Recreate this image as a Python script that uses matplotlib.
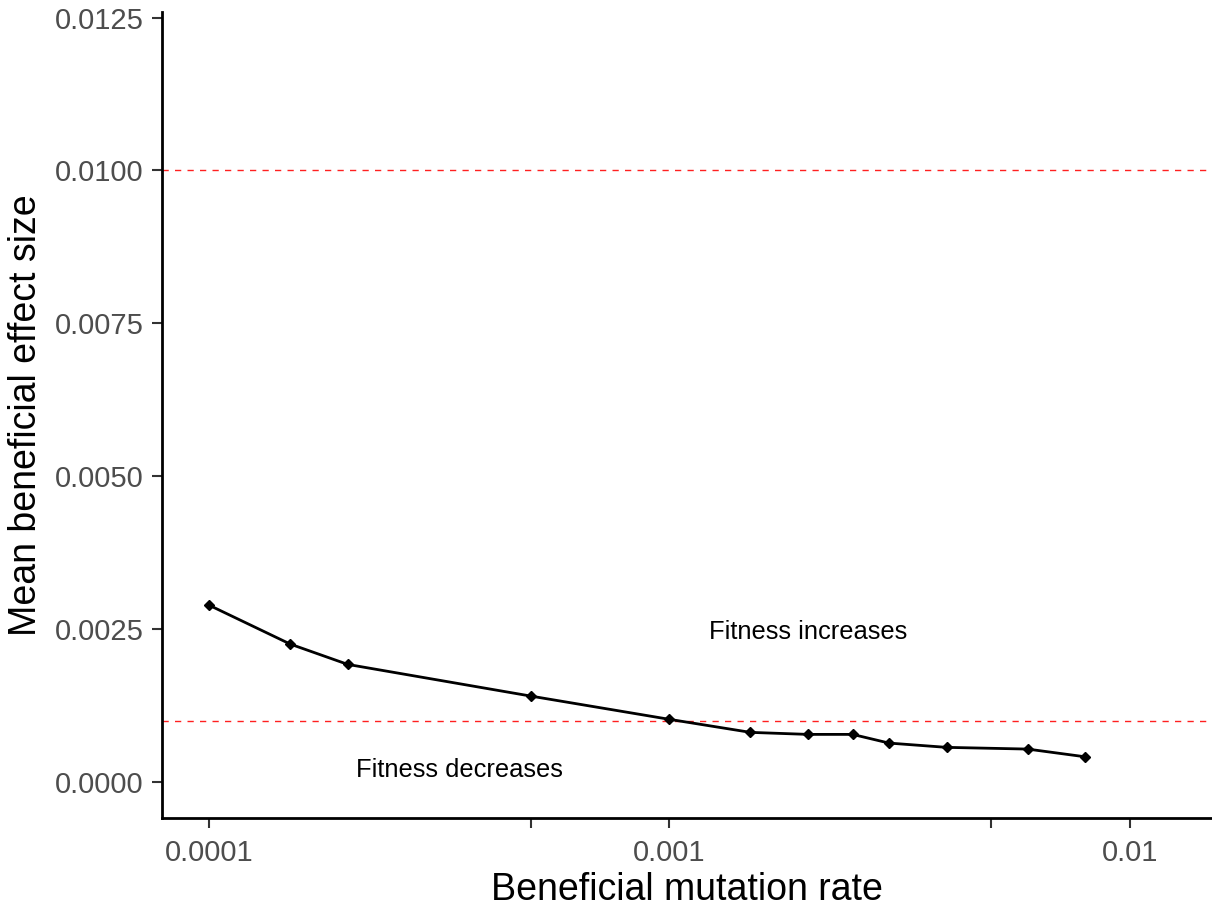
import matplotlib
matplotlib.use("Agg")
import matplotlib.pyplot as plt
import numpy as np

plt.rcParams['font.family'] = ['Liberation Sans', 'DejaVu Sans']

mutation_rate = [0.0001, 0.00015, 0.0002, 0.0005, 0.001, 0.0015, 0.002,
                 0.0025, 0.003, 0.004, 0.006, 0.008]
effect_size = [0.00289, 0.002255, 0.001923, 0.001405, 0.001025, 0.000812,
               0.000779, 0.000779, 0.000637, 0.000567, 0.000539, 0.000413]
hlines = [0.01, 0.001]
x_ticks = [0.0001, 0.0005, 0.001, 0.005, 0.01]
x_ticklabels = ["0.0001", "", "0.001", "", "0.01"]
y_ticks = [0.0, 0.0025, 0.005, 0.0075, 0.01, 0.0125]
y_ticklabels = ["0.0000", "0.0025", "0.0050", "0.0075", "0.0100", "0.0125"]

W, H = 1212, 909
fig = plt.figure(figsize=(W / 100, H / 100), dpi=100)
ax = fig.add_axes([161.7 / W, 1 - 818 / H, (1212 - 161.7) / W, (818 - 12) / H])

for h in hlines:
    ax.axhline(h, color='#FF2020', linestyle=(0, (4.5, 4.5)), linewidth=1.0)

ax.plot(mutation_rate, effect_size, color='black', linewidth=2.0,
        marker='D', markersize=5.5, zorder=3)

ax.text(0.002, 0.00245, "Fitness increases", fontsize=18.4, ha='center', va='center')
ax.text(0.00035, 0.0002, "Fitness decreases", fontsize=18.4, ha='center', va='center')

ax.set_xscale('log')
ax.set_xlim(10 ** -4.1034, 10 ** -1.821)
ax.set_ylim(-0.000588, 0.01259)
ax.set_xticks(x_ticks)
ax.set_xticklabels(x_ticklabels)
ax.xaxis.set_minor_locator(matplotlib.ticker.NullLocator())
ax.set_yticks(y_ticks)
ax.set_yticklabels(y_ticklabels)

for s in ['top', 'right']:
    ax.spines[s].set_visible(False)
for s in ['left', 'bottom']:
    ax.spines[s].set_linewidth(2.0)
    ax.spines[s].set_color('black')

ax.tick_params(axis='both', which='major', length=7, width=1.5, color='#333333',
               labelsize=21, labelcolor='#4D4D4D')
ax.tick_params(axis='x', pad=8)
ax.tick_params(axis='y', pad=6)

ax.set_xlabel("Beneficial mutation rate", fontsize=27, labelpad=4)
ax.set_ylabel("Mean beneficial effect size", fontsize=27, labelpad=8)

fig.savefig("out.png", dpi=100)
